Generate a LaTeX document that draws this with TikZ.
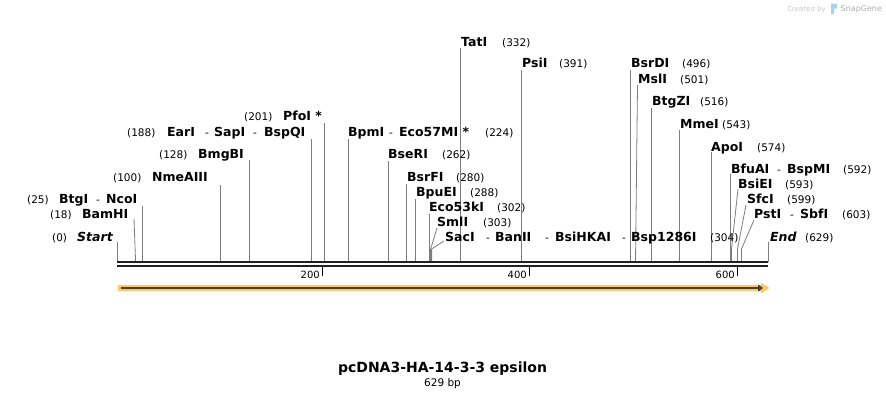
\documentclass[tikz,border=0pt]{standalone}
\usepackage{fontspec}
\setmainfont{DejaVu Sans}
\usetikzlibrary{arrows.meta}
\definecolor{featfill}{RGB}{250,200,105}
\definecolor{featline}{RGB}{75,62,45}
\definecolor{cutgray}{RGB}{125,125,125}
\definecolor{logoblue}{RGB}{165,212,240}
\begin{document}
\begin{tikzpicture}[x=1pt,y=-1pt, line join=round,
	enz/.style={font=\bfseries\fontsize{12.5}{14}\selectfont, anchor=base west, inner sep=0pt},
	num/.style={font=\fontsize{10.5}{12}\selectfont, anchor=base west, inner sep=0pt},
	ends/.style={font=\bfseries\itshape\fontsize{12.5}{14}\selectfont, anchor=base west, inner sep=0pt},
	cut/.style={draw=cutgray, line width=0.8pt},
	strand/.style={draw=black!88, line width=2.4pt}]
	\useasboundingbox (0,0) rectangle (886,400);
	\def\xa{117} \def\xb{768}
	\def\top{262} \def\bot{266}
	% cut sites
	\foreach \x/\t in {117/242, 142.5/206, 220.5/185, 249.5/160, 311.5/139, 324.5/123, 348.5/139, 388/161, 406.5/184, 415.5/199, 429.6/214, 460.5/48, 521.5/70, 630.5/70, 651.5/108, 679.5/130, 711/152, 730.5/174, 768/242}
	\draw[cut] (\x,\top)--(\x,\t);
	\foreach \x/\tx/\t in {135.6/134/219, 635.5/637.5/85}
	\draw[cut] (\x,\top)--(\tx,\t);
	\foreach \x/\tx/\t in {430.6/437/228, 431.6/444/241, 731.5/738/189, 737.5/746/205, 741.5/754/220}
	\draw[cut] (\x,\top)--(\x,249)--(\tx,\t);
	\draw[strand] (\xa,\top)--(\xb,\top);
	\draw[strand] (\xa,\bot)--(\xb,\bot);
	\foreach \x/\r in {322.5/200, 529.5/400, 737.5/600}{
		\draw[line width=1.6pt] (\x,\bot)--(\x,275.5);
		\node[font=\fontsize{10}{12}\selectfont, anchor=base east, inner sep=0pt] (tick\r) at (\x-2.5,278.5) {\r};
	}
	% labels with the number on the right
	\foreach \id/\name/\x/\y/\n/\nx in {bseri/BseRI/388/154/262/442, bsrfi/BsrFI/407/177/280/456, bpuei/BpuEI/416/192/288/470, eco53ki/Eco53kI/429/207/302/497, smli/SmlI/437/222/303/483, tati/TatI/461/42/332/502, psii/PsiI/522/63/391/559, bsrdi/BsrDI/631/63/496/682, msli/MslI/638/79/501/680, btgzi/BtgZI/652/101/516/700, mmei/MmeI/680/124/543/722, apoi/ApoI/711/147/574/757, bsiei/BsiEI/738/184/593/785, sfci/SfcI/747/199/599/787}{
		\node[enz] (\id) at (\x,\y+4.5) {\name};
		\node[num] (\id-pos) at (\nx,\y+4.5) {(\n)};
	}
	% labels with the number on the left
	\foreach \id/\name/\x/\y/\n/\nx in {bamhi/BamHI/82/214/18/50, nmeaiii/NmeAIII/152/177/100/113, bmgbi/BmgBI/198/154/128/159, pfoi/PfoI */283/116/201/244}{
		\node[enz] (\id) at (\x,\y+4.5) {\name};
		\node[num] (\id-pos) at (\nx,\y+4.5) {(\n)};
	}
	\node[num] (start-pos) at (52,241.5) {(0)};
	\node[ends] (start) at (77,241.5) {Start};
	\node[ends] (end) at (770,241.5) {End};
	\node[num] (end-pos) at (805,241.5) {(629)};
	\node[num] (btgi-pos) at (27,203.5) {(25)};
	\node[enz] (btgi) at (59,203.5) {BtgI};
	\node[num] (btgi-dash) at (96,203.5) {-};
	\node[enz] (ncoi) at (106,203.5) {NcoI};
	\node[num] (eari-pos) at (127,136.5) {(188)};
	\node[enz] (eari) at (167,136.5) {EarI};
	\node[num] (eari-dash) at (205,136.5) {-};
	\node[enz] (sapi) at (214,136.5) {SapI};
	\node[num] (sapi-dash) at (253,136.5) {-};
	\node[enz] (bspqi) at (264,136.5) {BspQI};
	\node[enz] (bpmi) at (348,136.5) {BpmI};
	\node[num] (bpmi-dash) at (389,136.5) {-};
	\node[enz] (eco57mi) at (399,136.5) {Eco57MI *};
	\node[num] (bpmi-pos) at (485,136.5) {(224)};
	\node[enz] (saci) at (445,241.5) {SacI};
	\node[num] (saci-dash) at (486,241.5) {-};
	\node[enz] (banii) at (495,241.5) {BanII};
	\node[num] (banii-dash) at (545,241.5) {-};
	\node[enz] (bsihkai) at (555,241.5) {BsiHKAI};
	\node[num] (bsihkai-dash) at (622,241.5) {-};
	\node[enz] (bsp1286i) at (631,241.5) {Bsp1286I};
	\node[num] (saci-pos) at (710,241.5) {(304)};
	\node[enz] (bfuai) at (731,173.5) {BfuAI};
	\node[num] (bfuai-dash) at (777,173.5) {-};
	\node[enz] (bspmi) at (787,173.5) {BspMI};
	\node[num] (bfuai-pos) at (843,173.5) {(592)};
	\node[enz] (psti) at (754,218.5) {PstI};
	\node[num] (psti-dash) at (790,218.5) {-};
	\node[enz] (sbfi) at (800,218.5) {SbfI};
	\node[num] (psti-pos) at (842,218.5) {(603)};
	% feature
	\fill[featfill] (118,285)--(761,285)--(761,282.5)--(769.5,288)--(761,293.5)--(761,291)--(118,291)--cycle;
	\draw[featline, line width=2pt, -{Triangle[length=5pt,width=7pt]}] (120.5,288)--(763,288);
	\node[font=\bfseries\fontsize{14}{16}\selectfont] (title) at (442.5,369) {pcDNA3-HA-14-3-3 epsilon};
	\node[font=\fontsize{10.5}{12}\selectfont] (size) at (442.5,384) {629 bp};
	\node[font=\fontsize{7}{9}\selectfont, text=black!22, anchor=base east, inner sep=0pt] (made) at (826,11) {Created by};
	\fill[logoblue] (831,3.5)--(837,3.5)--(837,8.5)--(834,8.5)--(834,14)--(831,14)--cycle;
	\node[font=\fontsize{8}{10}\selectfont, text=black!32, anchor=base west, inner sep=0pt] (brand) at (840.5,11.5) {SnapGene};
\end{tikzpicture}
\end{document}
